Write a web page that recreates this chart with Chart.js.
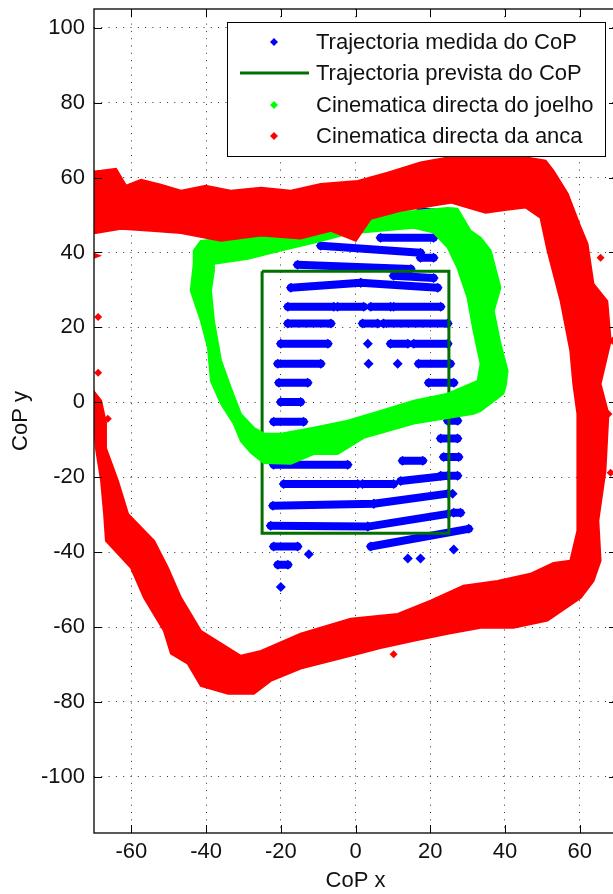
<!DOCTYPE html>
<html>
<head>
<meta charset="utf-8">
<script src="https://cdn.jsdelivr.net/npm/chart.js@4.4.1/dist/chart.umd.min.js"></script>
<style>
  html, body { margin: 0; padding: 0; background: #fff; overflow: hidden; }
  #cop { display: block; }
</style>
</head>
<body>
<canvas id="cop" width="620" height="894"></canvas>
<script>
// ---- axes ----
const xTicks = [-60, -40, -20, 0, 20, 40, 60];
const yTicks = [-100, -80, -60, -40, -20, 0, 20, 40, 60, 80, 100];
const xRange = [-70, 70];
const yRange = [-115, 105];

// ---- legend labels ----
const seriesLabels = [
  'Trajectoria medida do CoP',
  'Trajectoria prevista do CoP',
  'Cinematica directa do joelho',
  'Cinematica directa da anca'
];

// ---- predicted CoP (rectangle corners) ----
const rectX = [-25, 25, 25, -25, -25];
const rectY = [35, 35, -35, -35, 35];

// ---- measured CoP: horizontal streaks [x1, y1, x2, y2] and single points ----
const blueStrokes = [
  [-3.2, 51.1, 0.6, 51.1], [17.4, 51.1, 20.9, 50.6],
  [6.7, 43.9, 20.9, 43.9],
  [-9.3, 41.8, 17.4, 39.9], [17.4, 38.6, 20.9, 38.6],
  [-15.5, 36.7, 14.8, 35.6], [10.2, 33.8, 20.9, 33.2],
  [-17.3, 30.6, 1.4, 31.9], [1.4, 31.9, 22.0, 30.6],
  [-18.1, 25.5, -5.8, 25.5], [-4.8, 25.5, 2.2, 25.5], [4.1, 25.5, 9.4, 25.5], [10.2, 25.5, 22.8, 25.5],
  [-18.1, 21.0, -6.6, 21.0], [1.9, 21.0, 5.9, 21.0], [7.5, 21.0, 24.7, 21.0],
  [-20.0, 15.6, -7.4, 15.6], [9.4, 15.6, 14.0, 15.6], [15.6, 15.6, 24.7, 15.6],
  [-20.8, 10.3, -9.3, 10.3], [16.9, 10.3, 25.4, 10.3],
  [-20.5, 5.2, -12.8, 5.2], [19.6, 5.2, 26.3, 5.2],
  [-20.0, 0.1, -14.7, 0.1],
  [24.7, -4.9, 27.3, -4.9], [-21.9, -5.2, -13.9, -5.2],
  [22.8, -9.7, 27.3, -9.7],
  [23.6, -14.6, 27.6, -14.6], [12.6, -15.6, 18.0, -15.6],
  [-21.9, -16.7, -2.1, -16.7],
  [22.8, -19.6, 27.3, -19.6],
  [-19.2, -21.8, 0.6, -21.8], [1.9, -21.8, 10.2, -21.8], [12.1, -21.0, 24.7, -19.6],
  [-22.1, -27.6, 4.9, -27.1], [4.9, -27.1, 24.7, -24.4],
  [26.3, -29.5, 28.1, -29.5],
  [-22.7, -33.0, 3.3, -33.2], [3.3, -33.2, 24.7, -29.8],
  [-21.9, -38.5, -15.5, -38.5], [4.1, -38.5, 30.3, -33.8],
  [-20.8, -43.4, -18.1, -43.4]
];
const blueDots = [
  [18.0, 62.3], [3.3, 15.6], [3.5, 10.3], [11.3, 10.3], [26.0, -24.4],
  [26.3, -39.3], [-12.5, -40.6], [14.0, -41.7], [17.4, -41.7], [-20.0, -49.3]
];

// ---- knee (joelho): outer and inner edge of the point band ----
const greenOuter = [
  [-43.3, 37.0], [-43.3, 40.5], [-41.4, 43.1], [-33.4, 43.9], [-20.0, 46.6], [-6.6, 48.5],
  [-2.1, 49.3], [3.3, 50.3], [15.6, 51.1], [24.7, 51.9], [27.3, 51.7], [30.8, 45.8],
  [33.5, 43.9], [36.2, 40.5], [38.8, 30.6], [37.0, 24.4], [38.8, 15.6], [40.7, 8.4],
  [40.2, 4.4], [39.6, 2.3], [33.5, -2.3], [31.6, -3.1], [15.6, -5.7], [2.2, -9.5],
  [-4.8, -13.8], [-11.2, -13.8], [-17.3, -16.4], [-24.5, -16.2], [-28.0, -13.5],
  [-30.7, -10.3], [-32.6, -5.7], [-36.0, -0.4], [-38.7, 5.7], [-39.5, 14.6],
  [-41.4, 21.8], [-44.1, 29.8]
];
const greenInner = [
  [-37.9, 37.0], [-28.8, 38.3], [-20.0, 40.5], [-11.2, 42.6], [-2.1, 45.0], [6.7, 45.8],
  [15.6, 46.6], [20.9, 45.3], [24.7, 41.3], [27.3, 35.9], [30.0, 27.9], [31.6, 19.1],
  [33.5, 10.3], [32.7, 5.7], [24.7, 2.3], [15.6, 0.4], [6.7, -2.3], [-2.1, -4.9],
  [-11.2, -6.8], [-20.0, -8.4], [-24.5, -8.4], [-27.2, -6.8], [-30.7, -3.1],
  [-33.4, 3.9], [-36.0, 11.1], [-37.9, 21.8], [-38.7, 29.8], [-37.9, 35.1]
];

// ---- hip (anca): outer and inner edge of the point band, plus stray points ----
const redOuter = [
  [-73.5, 61.3], [-68.1, 61.8], [-64.1, 62.3], [-61.4, 57.8], [-57.4, 59.4], [-52.1, 58.1],
  [-46.7, 56.5], [-40.1, 57.8], [-33.4, 56.5], [-25.3, 57.3], [-17.3, 56.5], [-9.3, 58.3],
  [0.6, 59.1], [8.6, 61.3], [17.4, 64.0], [27.3, 65.8], [36.2, 65.3], [44.2, 65.6],
  [50.9, 64.5], [53.0, 61.8], [56.8, 55.7], [60.3, 46.6], [62.1, 42.3], [63.7, 31.6],
  [67.4, 27.0], [68.3, 16.4], [65.6, 4.9], [67.7, -3.1], [66.9, -18.3], [65.0, -31.6],
  [65.6, -42.3], [63.7, -47.7], [60.3, -52.2], [51.4, -58.3], [42.3, -60.2], [33.5, -60.2],
  [24.7, -61.8], [15.6, -63.7], [6.7, -65.6], [-1.3, -67.7], [-14.7, -71.1], [-22.7, -74.4],
  [-27.2, -77.8], [-34.1, -77.8], [-41.4, -75.7], [-44.9, -69.8], [-49.4, -67.1],
  [-51.3, -61.0], [-56.6, -52.2], [-60.1, -44.2], [-66.8, -37.0], [-67.3, -29.8],
  [-68.1, -21.0], [-69.5, -12.2], [-70.0, -4.9], [-70.8, 1.7], [-73.5, 5.7], [-73.5, 37.8]
];
const redInner = [
  [-73.5, 45.2], [-69.5, 45.2], [-62.8, 46.3], [-54.8, 45.8], [-46.7, 45.2], [-36.0, 43.1],
  [-25.3, 44.5], [-14.7, 43.7], [-6.6, 45.8], [0.1, 43.1], [4.1, 49.0], [12.1, 51.1],
  [25.5, 53.3], [34.8, 50.6], [40.5, 51.4], [45.5, 52.0], [49.5, 49.3], [51.4, 40.5],
  [54.9, 27.1], [57.5, 13.8], [58.3, 4.9], [59.4, -3.1], [59.4, -21.0], [59.4, -34.3],
  [57.5, -42.3], [53.0, -42.9], [46.8, -45.8], [38.0, -47.7], [28.9, -49.0], [20.1, -53.0],
  [11.3, -56.5], [-1.3, -57.8], [-14.7, -61.8], [-25.3, -66.4], [-30.7, -67.7],
  [-41.4, -61.0], [-46.7, -52.2], [-50.2, -44.2], [-53.9, -37.0], [-60.9, -29.8],
  [-63.6, -21.0], [-66.8, -12.2], [-66.8, -5.5], [-68.1, 0.4], [-72.2, 5.7], [-72.2, 37.8],
  [-68.6, 39.1], [-72.2, 40.5]
];
const redDots = [
  [-66.3, -4.4], [-68.9, 22.8], [-68.9, 7.9], [65.6, 38.6], [66.4, 27.1],
  [68.8, 16.4], [68.3, -18.8], [67.7, -3.1], [10.2, -67.3]
];

const BLUE = '#0000ff', GREEN = '#00ff00', RED = '#ff0000', DKGREEN = '#007000';
const FONT = '"Liberation Sans", Arial, sans-serif';

// band = outer loop, then inner loop walked the other way -> hole in the middle
function band(outer, inner) {
  const rev = inner.slice().reverse();
  return outer.concat([outer[0]], rev, [rev[0]]).map(p => ({ x: p[0], y: p[1] }));
}
function strokes(list) {
  const out = [];
  list.forEach(s => { out.push({ x: s[0], y: s[1] }, { x: s[2], y: s[3] }, { x: null, y: null }); });
  return out;
}
const pts = list => list.map(p => ({ x: p[0], y: p[1] }));

// MATLAB-like box, inward ticks, axis titles and legend
const matlabAxes = {
  id: 'matlabAxes',
  afterDraw(chart) {
    const { ctx, chartArea: a, scales: { x, y } } = chart;
    ctx.save();
    ctx.strokeStyle = '#000';
    ctx.lineWidth = 1.3;
    ctx.strokeRect(a.left, a.top, a.right - a.left, a.bottom - a.top);
    const tl = 8;
    ctx.beginPath();
    xTicks.forEach(v => {
      const px = Math.round(x.getPixelForValue(v)) + 0.5;
      ctx.moveTo(px, a.bottom); ctx.lineTo(px, a.bottom - tl);
      ctx.moveTo(px, a.top); ctx.lineTo(px, a.top + tl);
    });
    yTicks.forEach(v => {
      const py = Math.round(y.getPixelForValue(v)) + 0.5;
      ctx.moveTo(a.left, py); ctx.lineTo(a.left + tl, py);
      ctx.moveTo(a.right, py); ctx.lineTo(a.right - tl, py);
    });
    ctx.lineWidth = 1;
    ctx.stroke();

    // axis titles
    ctx.fillStyle = '#111';
    ctx.font = '22px ' + FONT;
    ctx.textAlign = 'center';
    ctx.textBaseline = 'middle';
    ctx.fillText('CoP x', x.getPixelForValue(0), 881);
    ctx.save();
    ctx.translate(21, (a.top + a.bottom) / 2);
    ctx.rotate(-Math.PI / 2);
    ctx.fillText('CoP y', 0, 0);
    ctx.restore();

    // legend
    const lx = 227.5, ly = 22.5, lw = 378, lh = 134;
    ctx.fillStyle = '#fff';
    ctx.fillRect(lx, ly, lw, lh);
    ctx.strokeStyle = '#000';
    ctx.lineWidth = 1;
    ctx.strokeRect(lx, ly, lw, lh);
    const rows = [42, 73, 105, 136];
    const diamond = (cx, cy, r, c) => {
      ctx.fillStyle = c;
      ctx.beginPath();
      ctx.moveTo(cx - r, cy); ctx.lineTo(cx, cy - r); ctx.lineTo(cx + r, cy); ctx.lineTo(cx, cy + r);
      ctx.closePath(); ctx.fill();
    };
    diamond(274, rows[0], 4, BLUE);
    ctx.strokeStyle = DKGREEN; ctx.lineWidth = 3;
    ctx.beginPath(); ctx.moveTo(240, rows[1]); ctx.lineTo(309, rows[1]); ctx.stroke();
    diamond(274, rows[2], 4, GREEN);
    diamond(274, rows[3], 4, RED);
    ctx.fillStyle = '#111';
    ctx.textAlign = 'left';
    ctx.textBaseline = 'middle';
    seriesLabels.forEach((t, i) => ctx.fillText(t, 316, rows[i] + 1));
    ctx.restore();
  }
};

new Chart(document.getElementById('cop'), {
  type: 'scatter',
  data: {
    datasets: [
      {
        label: seriesLabels[3], data: band(redOuter, redInner), order: 1,
        showLine: true, fill: 'shape', backgroundColor: RED, borderColor: RED,
        borderWidth: 2, pointRadius: 0, tension: 0, clip: 0
      },
      {
        label: seriesLabels[3] + ' (dispersos)', data: pts(redDots), order: 1,
        pointStyle: 'rectRot', pointRadius: 4, backgroundColor: RED, borderColor: RED, borderWidth: 0, clip: 0
      },
      {
        label: seriesLabels[2], data: band(greenOuter, greenInner), order: 2,
        showLine: true, fill: 'shape', backgroundColor: GREEN, borderColor: GREEN,
        borderWidth: 2, pointRadius: 0, tension: 0, clip: 0
      },
      {
        label: seriesLabels[1], data: rectX.map((v, i) => ({ x: v, y: rectY[i] })), order: 3,
        showLine: true, borderColor: DKGREEN, borderWidth: 3, pointRadius: 0, tension: 0, clip: 0
      },
      {
        label: seriesLabels[0], data: strokes(blueStrokes), order: 4,
        showLine: true, spanGaps: false, borderColor: BLUE, borderWidth: 8, borderCapStyle: 'round',
        pointStyle: 'rectRot', pointRadius: 5, backgroundColor: BLUE, pointBorderWidth: 0, clip: 0
      },
      {
        label: seriesLabels[0] + ' (pontos)', data: pts(blueDots), order: 4,
        pointStyle: 'rectRot', pointRadius: 5, backgroundColor: BLUE, borderColor: BLUE, borderWidth: 0, clip: 0
      }
    ]
  },
  options: {
    responsive: false,
    animation: false,
    events: [],
    layout: { padding: { top: 9, right: 3, bottom: 0, left: 0 }, autoPadding: false },
    plugins: { legend: { display: false }, tooltip: { enabled: false } },
    scales: {
      x: {
        type: 'linear', min: xRange[0], max: xRange[1],
        afterBuildTicks: s => { s.ticks = xTicks.map(v => ({ value: v })); },
        afterFit: s => { s.height = 61; s.paddingLeft = 0; s.paddingRight = 0; },
        grid: { color: '#333', lineWidth: 1, drawTicks: false },
        border: { display: false, dash: [1, 6.3] },
        ticks: { color: '#111', font: { family: FONT, size: 22 }, padding: 6, maxRotation: 0 }
      },
      y: {
        type: 'linear', min: yRange[0], max: yRange[1],
        afterBuildTicks: s => { s.ticks = yTicks.map(v => ({ value: v })); },
        afterFit: s => { s.width = 94; s.paddingTop = 0; s.paddingBottom = 0; },
        grid: { color: '#333', lineWidth: 1, drawTicks: false },
        border: { display: false, dash: [1, 6.3] },
        ticks: { color: '#111', font: { family: FONT, size: 22 }, padding: 9 }
      }
    }
  },
  plugins: [matlabAxes]
});
</script>
</body>
</html>
